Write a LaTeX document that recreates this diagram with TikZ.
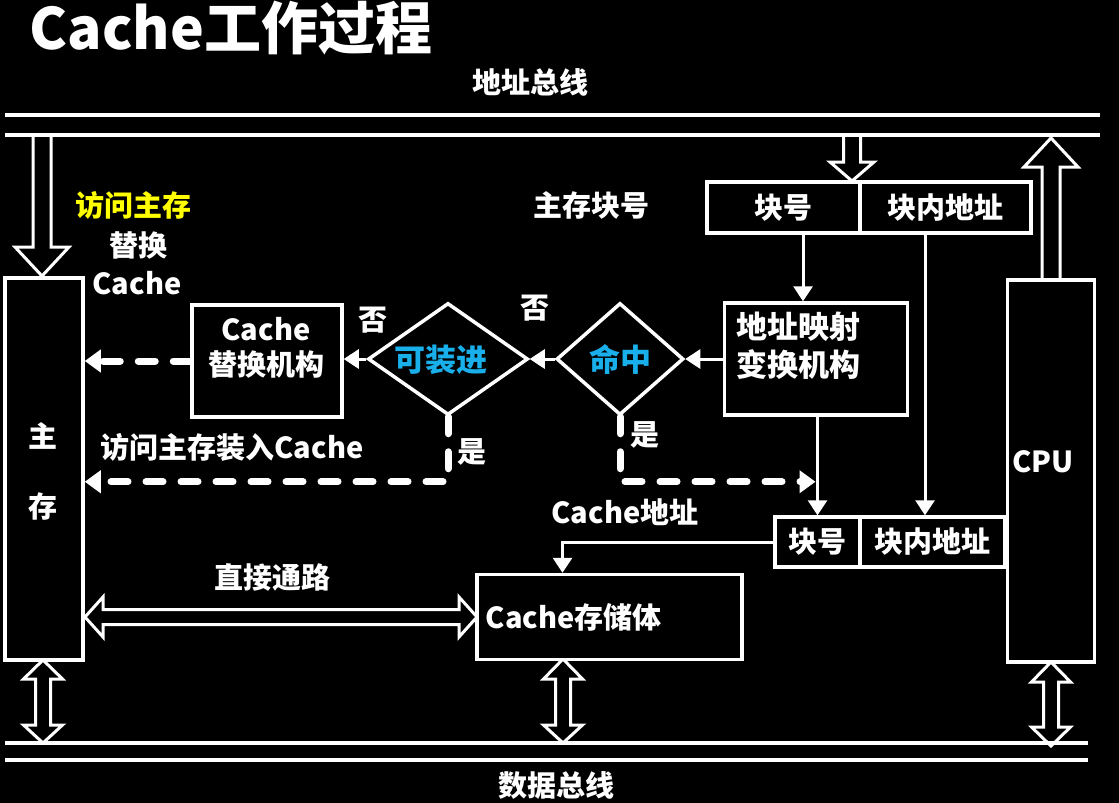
\documentclass[tikz,border=0pt]{standalone}
\usepackage{fontspec}
\setmainfont{Noto Sans CJK SC}
\usetikzlibrary{shapes.geometric,arrows.meta,calc}

\definecolor{hitblue}{RGB}{25,175,235}
\definecolor{accyellow}{RGB}{255,255,0}

% hollow bus arrows: x, open end, head base, tip, shaft half, head half
\newcommand{\openarrow}[6]{\draw[hollow] ({#1-#5},#2) -- ({#1-#5},#3) -- ({#1-#6},#3) -- (#1,#4) -- ({#1+#6},#3) -- ({#1+#5},#3) -- ({#1+#5},#2);}
% double hollow arrows: position, tip, base, base, tip, shaft half, head half
\newcommand{\twowayv}[7]{\draw[hollow] (#1,#2) -- ({#1+#7},#3) -- ({#1+#6},#3) -- ({#1+#6},#4) -- ({#1+#7},#4) -- (#1,#5) -- ({#1-#7},#4) -- ({#1-#6},#4) -- ({#1-#6},#3) -- ({#1-#7},#3) -- cycle;}
\newcommand{\twowayh}[7]{\draw[hollow] (#2,#1) -- (#3,{#1+#7}) -- (#3,{#1+#6}) -- (#4,{#1+#6}) -- (#4,{#1+#7}) -- (#5,#1) -- (#4,{#1-#7}) -- (#4,{#1-#6}) -- (#3,{#1-#6}) -- (#3,{#1-#7}) -- cycle;}

\begin{document}
\begin{tikzpicture}[x=1pt, y=-1pt,
    lbl/.style={text=white, font=\fontsize{29}{36}\selectfont\bfseries},
    box/.style={draw=white, line width=3.5pt, fill=black, inner sep=0pt},
    dec/.style={diamond, draw=white, line width=3.5pt, fill=black, inner sep=0pt},
    arr/.style={draw=white, line width=3pt, -{Triangle[length=15pt,width=19pt]}},
    dasharr/.style={draw=white, line width=7pt, line cap=round, dash pattern=on 17pt off 18pt, -{Triangle[length=16pt,width=22pt]}},
    hollow/.style={draw=white, line width=3pt, fill=black, line join=miter},
    bus/.style={draw=white, line width=3.5pt}]
    \useasboundingbox (0,0) rectangle (1119,803);
    \fill[black] (0,0) rectangle (1119,803);

    % title and bus names
    \node[lbl, font=\fontsize{57}{60}\selectfont\bfseries, anchor=west] (title) at (26,28) {Cache工作过程};
    \node[lbl] (abus) at (530,82) {地址总线};
    \node[lbl] (dbus) at (556,785) {数据总线};

    % hollow arrows to and from the buses
    \openarrow{42}{135}{247}{276}{9}{27}
    \openarrow{852}{135}{162}{181}{8.5}{22}
    \openarrow{1051}{280}{167}{138}{9}{27}
    \twowayv{43}{660}{679}{725}{743}{7.5}{19.5}
    \twowayv{563}{659}{679}{725}{743}{7.5}{19.5}
    \twowayv{1051}{662}{682}{727}{746}{7.5}{19.5}
    \twowayh{617}{85}{103}{459}{477}{7.5}{20}

    % buses
    \draw[bus] (5,115) -- (1100,115);
    \draw[bus] (5,135) -- (1100,135);
    \draw[bus] (5,743) -- (1088,743);
    \draw[bus] (5,760) -- (1088,760);

    % blocks
    \node[box, minimum width=78pt, minimum height=382pt] (mem) at (44,469) {};
    \node[lbl, align=center, font=\fontsize{29}{70}\selectfont\bfseries] (memtxt) at (43,471) {主\\存};
    \node[box, minimum width=87pt, minimum height=382pt] (cpu) at (1051,471) {};
    \node[lbl] (cputxt) at (1043,462) {CPU};
    \node[box, lbl, minimum width=153pt, minimum height=51pt] (blk1) at (783.5,207.5) {块号};
    \node[box, lbl, minimum width=171pt, minimum height=51pt] (off1) at (945.5,207.5) {块内地址};
    \node[box, minimum width=183pt, minimum height=112pt] (map) at (816,359) {};
    \node[lbl, font=\fontsize{31}{38}\selectfont\bfseries, align=left, anchor=west] (maptxt) at (733,346) {地址映射\\变换机构};
    \node[dec, lbl, text=hitblue, font=\fontsize{31}{36}\selectfont\bfseries,
        minimum width=127pt, minimum height=112pt] (hit) at (620,359) {命中};
    \node[dec, minimum width=160pt, minimum height=112pt] (load) at (448,359) {};
    \node[lbl, text=hitblue, font=\fontsize{31}{36}\selectfont\bfseries] (loadtxt) at (441,360) {可装进};
    \node[box, minimum width=150pt, minimum height=112pt] (repl) at (267,361) {};
    \node[lbl, align=center, font=\fontsize{29}{35}\selectfont\bfseries] (repltxt) at (266,348) {Cache\\替换机构};
    \node[box, lbl, minimum width=85pt, minimum height=50pt] (blk2) at (817.5,542) {块号};
    \node[box, lbl, minimum width=145pt, minimum height=50pt] (off2) at (932.5,542) {块内地址};
    \node[box, minimum width=265pt, minimum height=85pt] (store) at (609.5,617) {};
    \node[lbl, anchor=west] (storetxt) at ([xshift=7pt]store.west) {Cache存储体};

    % labels
    \node[lbl, text=accyellow] (visit) at (133,205) {访问主存};
    \node[lbl] (swap) at (138,245) {替换};
    \node[lbl] (swapc) at (137,283) {Cache};
    \node[lbl] (mblk) at (591,205) {主存块号};
    \node[lbl] (no1) at (373,320) {否};
    \node[lbl] (no2) at (535,308) {否};
    \node[lbl] (yes1) at (472,452) {是};
    \node[lbl] (yes2) at (645,435) {是};
    \node[lbl] (load2mem) at (232,447) {访问主存装入Cache};
    \node[lbl] (caddr) at (625,512) {Cache地址};
    \node[lbl] (direct) at (272,577) {直接通路};

    % connectors
    \draw[arr] ([xshift=19.5pt]blk1.south) -- ([xshift=19.5pt]blk1.south |- map.north);
    \draw[arr] ([xshift=-20.5pt]off1.south) -- ([xshift=-20.5pt]off1.south |- off2.north);
    \draw[arr] (map.south -| blk2.north) -- (blk2.north);
    \draw[arr] (map.west) -- (hit.east);
    \draw[arr] (hit.west) -- (load.east);
    \draw[arr] (load.west) -- (load.west -| repl.east);
    \draw[arr] (blk2.west) -| ([xshift=-47pt]store.north);
    \draw[dasharr] (repl.west) -- (repl.west -| mem.east);
    \draw[dasharr] (load.south) -- ++(0,65) coordinate (turn1) -- (turn1 -| mem.east);
    \draw[dasharr] (hit.south) -- ++(0,65) coordinate (turn2) -- ([xshift=-2pt]turn2 -| blk2.north);
\end{tikzpicture}
\end{document}
